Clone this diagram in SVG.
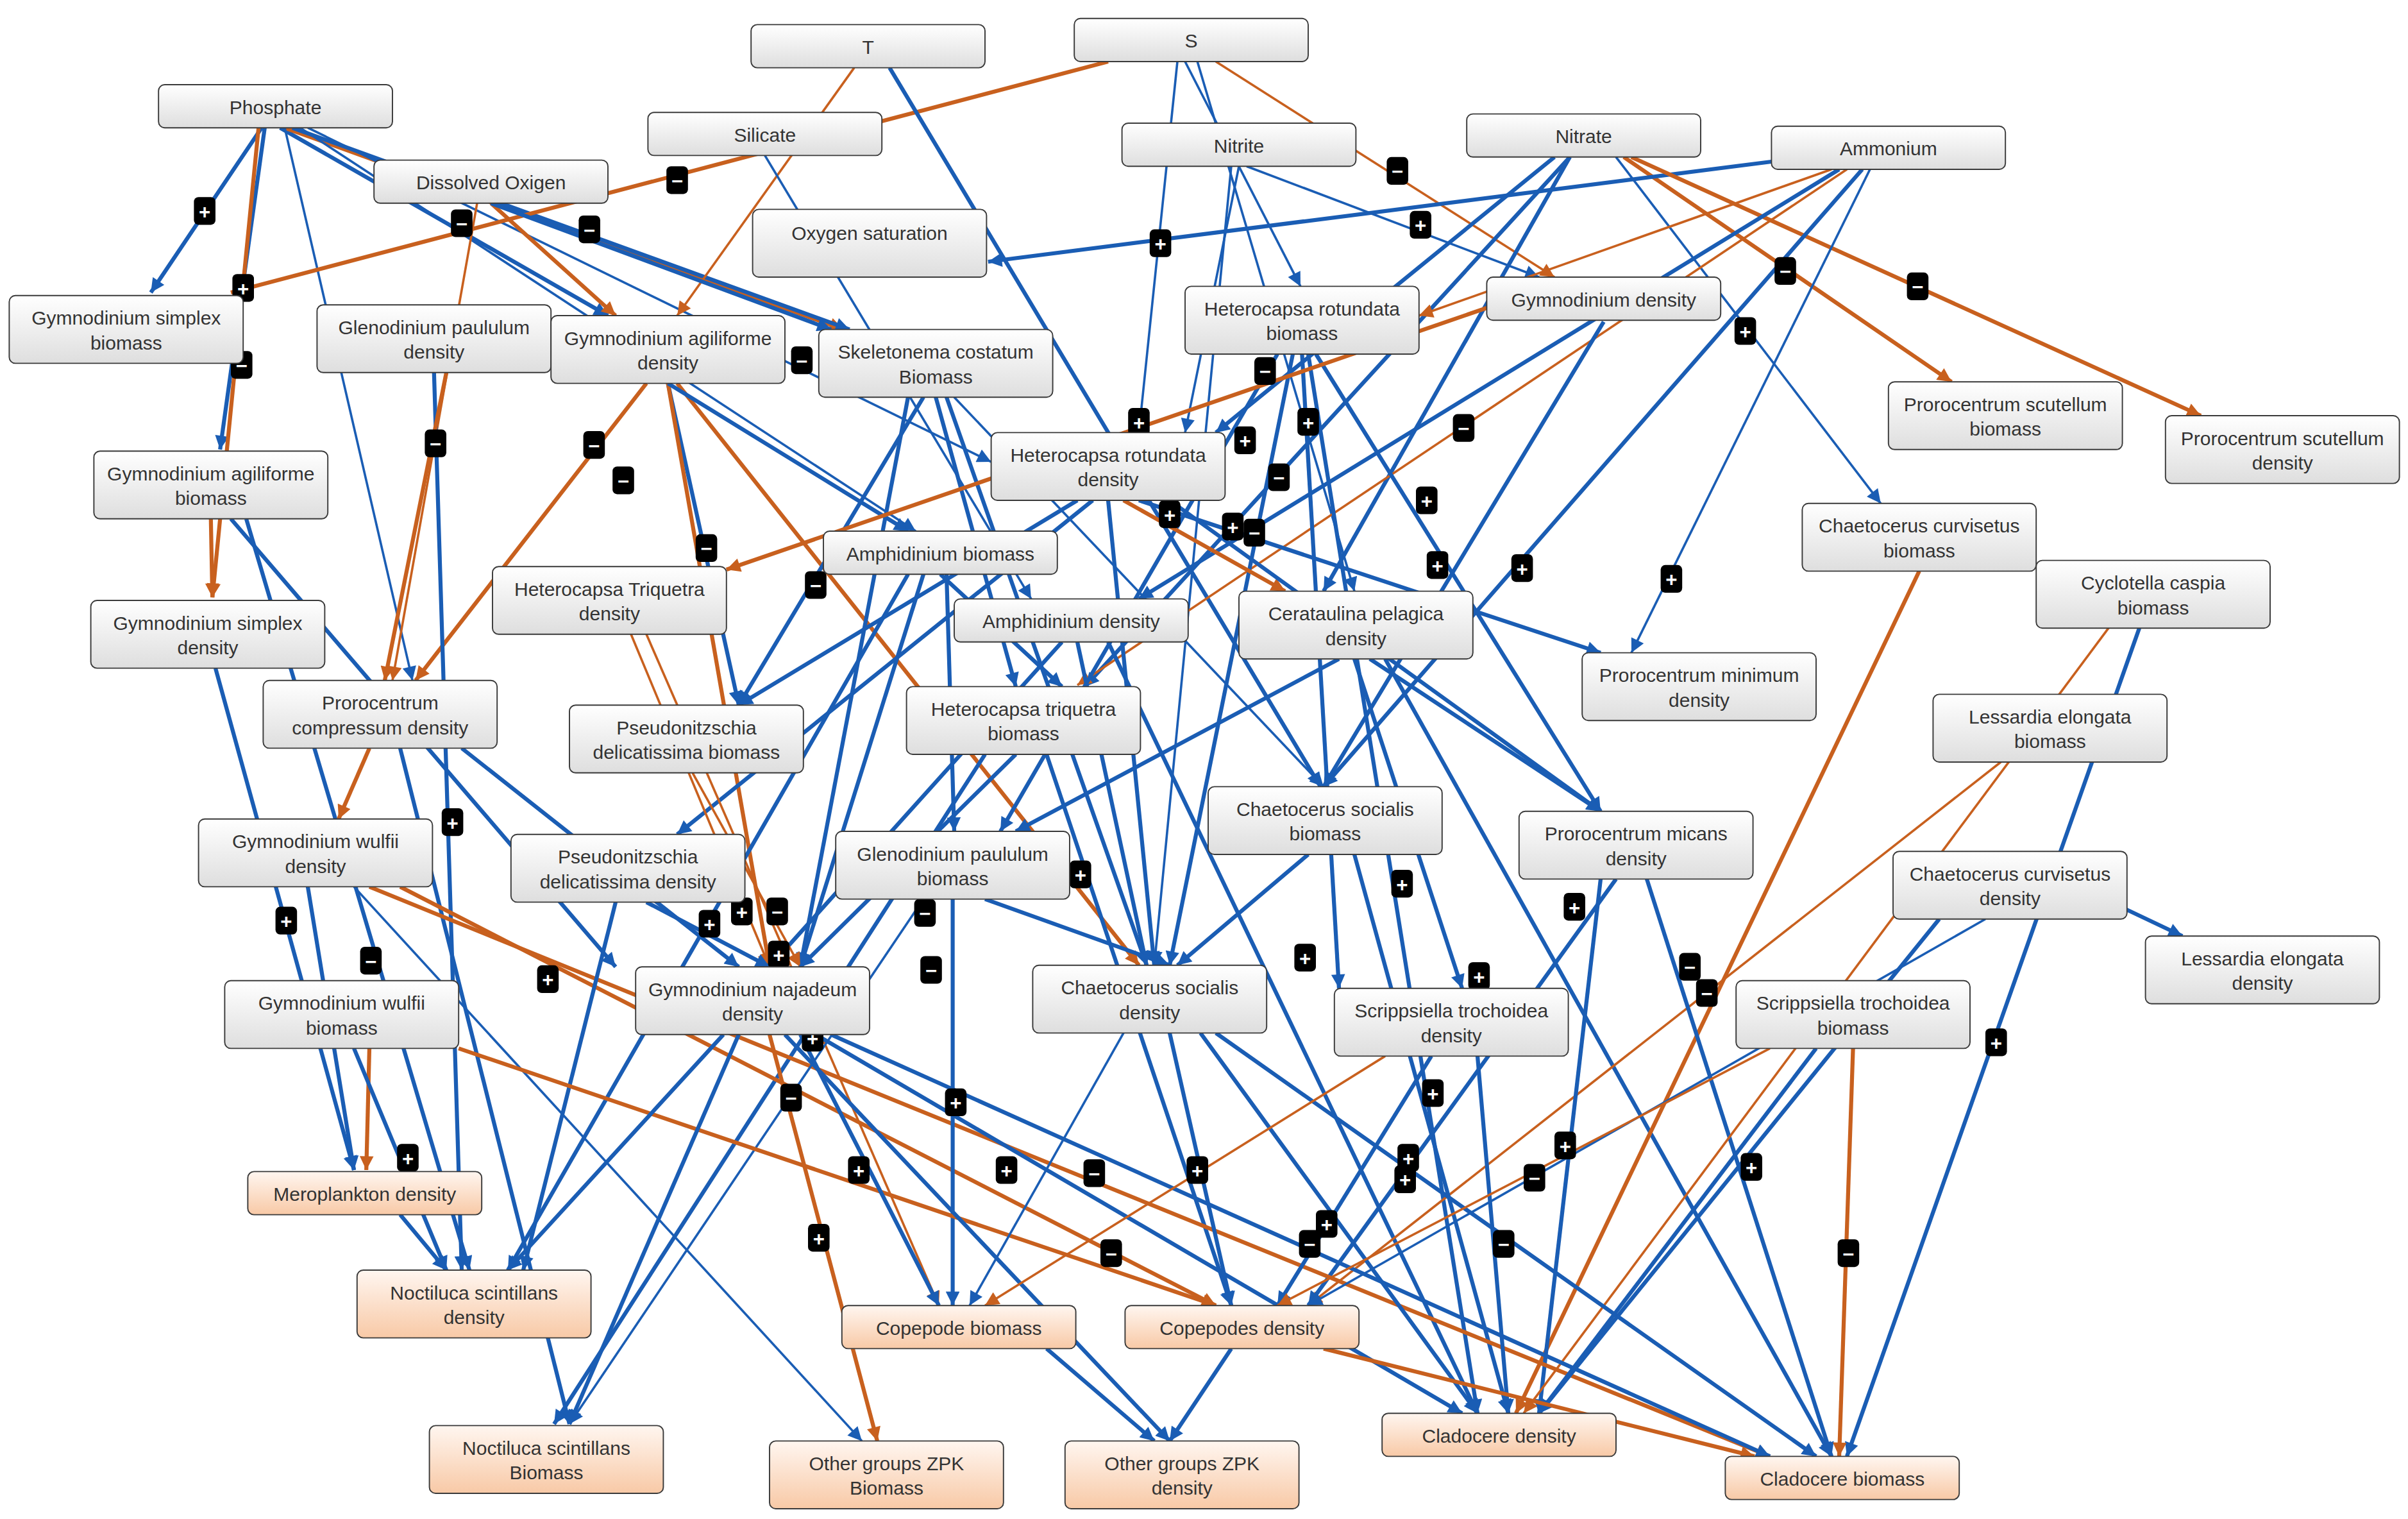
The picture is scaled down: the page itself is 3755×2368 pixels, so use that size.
<svg xmlns="http://www.w3.org/2000/svg" width="3755" height="2368" viewBox="0 0 3755 2368">
<style>
.n rect{fill:url(#g);stroke:#3a3a3a;stroke-width:0.8}
.z rect{fill:url(#gz);stroke:#3a3a3a;stroke-width:0.8}
text{font-family:"Liberation Sans",Arial,sans-serif;font-size:12.5px;fill:#333;text-anchor:middle}
.b{stroke:#1a5db4;fill:none;marker-end:url(#ab)}
.o{stroke:#c8601e;fill:none;marker-end:url(#ao)}
.t{stroke-width:2.6}.h{stroke-width:1.5}
.s rect{fill:#000;rx:3px}
.s text{fill:#fff;font-size:13px;font-weight:bold}
</style>
<defs>
<linearGradient id="g" x1="0" y1="0" x2="0" y2="1"><stop offset="0" stop-color="#ffffff"/><stop offset="1" stop-color="#dedede"/></linearGradient>
<linearGradient id="gz" x1="0" y1="0" x2="0" y2="1"><stop offset="0" stop-color="#fff6f0"/><stop offset="1" stop-color="#f8c9a6"/></linearGradient>
<marker id="ab" markerUnits="userSpaceOnUse" viewBox="0 0 10 10" refX="10" refY="5" markerWidth="11" markerHeight="9" orient="auto"><path d="M0,0L10,5L0,10z" fill="#1a5db4"/></marker>
<marker id="ao" markerUnits="userSpaceOnUse" viewBox="0 0 10 10" refX="10" refY="5" markerWidth="11" markerHeight="9" orient="auto"><path d="M0,0L10,5L0,10z" fill="#c8601e"/></marker>
</defs>
<rect width="3755" height="2368" fill="#fff"/>
<g transform="scale(2.4)">
<g id="connectors">
<line class="b t" x1="170" y1="83" x2="98" y2="190"/>
<line class="b t" x1="172" y1="83" x2="143" y2="292"/>
<line class="o t" x1="168" y1="83" x2="138" y2="388"/>
<line class="b t" x1="182" y1="83" x2="395" y2="205"/>
<line class="o t" x1="185" y1="83" x2="548" y2="214"/>
<line class="b t" x1="190" y1="83" x2="552" y2="214"/>
<line class="b h" x1="195" y1="83" x2="595" y2="345"/>
<line class="b h" x1="200" y1="83" x2="644" y2="300"/>
<line class="b h" x1="185" y1="83" x2="268" y2="442"/>
<line class="o t" x1="720" y1="40" x2="150" y2="190"/>
<line class="o h" x1="555" y1="44" x2="440" y2="205"/>
<line class="b t" x1="578" y1="44" x2="858" y2="511"/>
<line class="b h" x1="765" y1="40" x2="740" y2="281"/>
<line class="b h" x1="770" y1="40" x2="845" y2="186"/>
<line class="o h" x1="790" y1="40" x2="1010" y2="180"/>
<line class="b h" x1="778" y1="40" x2="880" y2="384"/>
<line class="b h" x1="805" y1="108" x2="770" y2="281"/>
<line class="b h" x1="800" y1="108" x2="750" y2="627"/>
<line class="b h" x1="810" y1="108" x2="1000" y2="180"/>
<line class="b t" x1="1010" y1="102" x2="790" y2="281"/>
<line class="b h" x1="1050" y1="102" x2="1222" y2="327"/>
<line class="o t" x1="1055" y1="102" x2="1268" y2="248"/>
<line class="b t" x1="1020" y1="102" x2="860" y2="384"/>
<line class="b t" x1="1020" y1="102" x2="705" y2="446"/>
<line class="b t" x1="1151" y1="105" x2="642" y2="170"/>
<line class="o t" x1="1060" y1="102" x2="1430" y2="270"/>
<line class="o h" x1="1190" y1="110" x2="922" y2="205"/>
<line class="o h" x1="1200" y1="110" x2="700" y2="445"/>
<line class="b t" x1="1210" y1="110" x2="860" y2="511"/>
<line class="b h" x1="1215" y1="110" x2="1060" y2="424"/>
<line class="b t" x1="1195" y1="110" x2="740" y2="389"/>
<line class="o t" x1="319" y1="132" x2="400" y2="205"/>
<line class="b t" x1="319" y1="132" x2="540" y2="214"/>
<line class="o h" x1="310" y1="132" x2="255" y2="442"/>
<line class="b h" x1="497" y1="101" x2="670" y2="389"/>
<line class="b t" x1="434" y1="249" x2="480" y2="458"/>
<line class="o t" x1="434" y1="249" x2="500" y2="628"/>
<line class="o t" x1="420" y1="249" x2="270" y2="442"/>
<line class="o t" x1="440" y1="249" x2="740" y2="627"/>
<line class="b t" x1="434" y1="249" x2="590" y2="345"/>
<line class="b t" x1="600" y1="258" x2="480" y2="458"/>
<line class="b t" x1="608" y1="258" x2="660" y2="446"/>
<line class="b t" x1="615" y1="258" x2="745" y2="627"/>
<line class="b h" x1="620" y1="258" x2="860" y2="511"/>
<line class="b t" x1="590" y1="258" x2="520" y2="628"/>
<line class="b t" x1="282" y1="242" x2="300" y2="825"/>
<line class="o t" x1="290" y1="242" x2="250" y2="442"/>
<line class="b t" x1="846" y1="230" x2="870" y2="642"/>
<line class="b t" x1="840" y1="230" x2="760" y2="627"/>
<line class="b t" x1="855" y1="230" x2="1040" y2="527"/>
<line class="b t" x1="850" y1="230" x2="960" y2="918"/>
<line class="b t" x1="830" y1="230" x2="650" y2="540"/>
<line class="o t" x1="966" y1="200" x2="472" y2="370"/>
<line class="b t" x1="1042" y1="209" x2="860" y2="511"/>
<line class="o t" x1="730" y1="325" x2="835" y2="384"/>
<line class="b t" x1="700" y1="325" x2="480" y2="458"/>
<line class="b t" x1="740" y1="325" x2="1040" y2="424"/>
<line class="b t" x1="720" y1="325" x2="750" y2="627"/>
<line class="b t" x1="710" y1="325" x2="440" y2="542"/>
<line class="b t" x1="760" y1="325" x2="1040" y2="527"/>
<line class="b t" x1="611" y1="373" x2="690" y2="446"/>
<line class="b t" x1="600" y1="373" x2="520" y2="628"/>
<line class="b t" x1="615" y1="373" x2="620" y2="540"/>
<line class="b t" x1="590" y1="373" x2="330" y2="825"/>
<line class="o h" x1="410" y1="412" x2="500" y2="628"/>
<line class="o h" x1="420" y1="412" x2="610" y2="848"/>
<line class="o t" x1="137" y1="337" x2="138" y2="388"/>
<line class="b t" x1="150" y1="337" x2="400" y2="628"/>
<line class="b t" x1="160" y1="337" x2="305" y2="825"/>
<line class="b t" x1="140" y1="434" x2="230" y2="760"/>
<line class="b t" x1="700" y1="417" x2="745" y2="627"/>
<line class="b t" x1="690" y1="417" x2="500" y2="628"/>
<line class="b t" x1="720" y1="417" x2="960" y2="918"/>
<line class="b t" x1="870" y1="428" x2="660" y2="540"/>
<line class="b t" x1="880" y1="428" x2="950" y2="642"/>
<line class="b t" x1="890" y1="428" x2="1040" y2="527"/>
<line class="b t" x1="900" y1="428" x2="1190" y2="946"/>
<line class="o t" x1="1247" y1="371" x2="985" y2="918"/>
<line class="o t" x1="240" y1="486" x2="220" y2="532"/>
<line class="b t" x1="300" y1="486" x2="480" y2="628"/>
<line class="b t" x1="260" y1="486" x2="370" y2="925"/>
<line class="o h" x1="450" y1="502" x2="520" y2="628"/>
<line class="b t" x1="640" y1="490" x2="360" y2="925"/>
<line class="b t" x1="660" y1="490" x2="520" y2="628"/>
<line class="b t" x1="680" y1="490" x2="800" y2="848"/>
<line class="o h" x1="1300" y1="495" x2="850" y2="848"/>
<line class="b t" x1="850" y1="555" x2="765" y2="627"/>
<line class="b t" x1="880" y1="555" x2="980" y2="918"/>
<line class="b t" x1="1050" y1="571" x2="850" y2="848"/>
<line class="b t" x1="1070" y1="571" x2="1190" y2="946"/>
<line class="b t" x1="1040" y1="571" x2="1000" y2="918"/>
<line class="b t" x1="200" y1="576" x2="230" y2="760"/>
<line class="o t" x1="260" y1="576" x2="790" y2="848"/>
<line class="o t" x1="240" y1="576" x2="1150" y2="946"/>
<line class="b h" x1="230" y1="576" x2="560" y2="936"/>
<line class="b t" x1="400" y1="586" x2="340" y2="825"/>
<line class="b t" x1="420" y1="586" x2="500" y2="628"/>
<line class="b t" x1="619" y1="584" x2="619" y2="848"/>
<line class="b t" x1="640" y1="584" x2="760" y2="627"/>
<line class="b h" x1="600" y1="584" x2="370" y2="925"/>
<line class="b t" x1="1380" y1="590" x2="1418" y2="608"/>
<line class="b t" x1="1260" y1="597" x2="1000" y2="918"/>
<line class="b h" x1="1290" y1="597" x2="850" y2="848"/>
<line class="b t" x1="1390" y1="408" x2="1200" y2="946"/>
<line class="o h" x1="1370" y1="408" x2="990" y2="918"/>
<line class="o t" x1="240" y1="681" x2="238" y2="760"/>
<line class="b t" x1="230" y1="681" x2="290" y2="825"/>
<line class="o t" x1="298" y1="681" x2="790" y2="848"/>
<line class="b t" x1="480" y1="672" x2="370" y2="925"/>
<line class="o t" x1="500" y1="672" x2="570" y2="936"/>
<line class="b t" x1="510" y1="672" x2="760" y2="936"/>
<line class="b t" x1="520" y1="672" x2="610" y2="848"/>
<line class="b t" x1="540" y1="672" x2="1150" y2="946"/>
<line class="b t" x1="530" y1="672" x2="950" y2="918"/>
<line class="b t" x1="470" y1="672" x2="330" y2="825"/>
<line class="b t" x1="760" y1="671" x2="800" y2="848"/>
<line class="b t" x1="780" y1="671" x2="960" y2="918"/>
<line class="b t" x1="790" y1="671" x2="1180" y2="946"/>
<line class="b h" x1="730" y1="671" x2="630" y2="848"/>
<line class="b t" x1="930" y1="686" x2="830" y2="848"/>
<line class="b t" x1="960" y1="686" x2="980" y2="918"/>
<line class="o h" x1="900" y1="686" x2="640" y2="848"/>
<line class="o t" x1="1204" y1="681" x2="1195" y2="946"/>
<line class="b t" x1="1180" y1="681" x2="1000" y2="918"/>
<line class="o h" x1="1150" y1="681" x2="830" y2="848"/>
<line class="b t" x1="800" y1="876" x2="760" y2="936"/>
<line class="o t" x1="860" y1="876" x2="1140" y2="946"/>
<line class="b t" x1="680" y1="876" x2="750" y2="936"/>
<line class="b t" x1="260" y1="789" x2="290" y2="825"/>
</g>
<g id="signs">
<g class="s"><rect x="126" y="128" width="14" height="18"/><text x="133" y="142">+</text></g>
<g class="s"><rect x="151" y="178" width="14" height="18"/><text x="158" y="192">+</text></g>
<g class="s"><rect x="150" y="228" width="14" height="18"/><text x="157" y="242">−</text></g>
<g class="s"><rect x="293" y="136" width="14" height="18"/><text x="300" y="150">−</text></g>
<g class="s"><rect x="376" y="140" width="14" height="18"/><text x="383" y="154">−</text></g>
<g class="s"><rect x="433" y="108" width="14" height="18"/><text x="440" y="122">−</text></g>
<g class="s"><rect x="514" y="225" width="14" height="18"/><text x="521" y="239">−</text></g>
<g class="s"><rect x="276" y="279" width="14" height="18"/><text x="283" y="293">−</text></g>
<g class="s"><rect x="379" y="280" width="14" height="18"/><text x="386" y="294">−</text></g>
<g class="s"><rect x="398" y="303" width="14" height="18"/><text x="405" y="317">−</text></g>
<g class="s"><rect x="452" y="347" width="14" height="18"/><text x="459" y="361">−</text></g>
<g class="s"><rect x="523" y="371" width="14" height="18"/><text x="530" y="385">−</text></g>
<g class="s"><rect x="747" y="149" width="14" height="18"/><text x="754" y="163">+</text></g>
<g class="s"><rect x="916" y="137" width="14" height="18"/><text x="923" y="151">+</text></g>
<g class="s"><rect x="901" y="102" width="14" height="18"/><text x="908" y="116">−</text></g>
<g class="s"><rect x="815" y="232" width="14" height="18"/><text x="822" y="246">−</text></g>
<g class="s"><rect x="843" y="265" width="14" height="18"/><text x="850" y="279">+</text></g>
<g class="s"><rect x="944" y="269" width="14" height="18"/><text x="951" y="283">−</text></g>
<g class="s"><rect x="920" y="316" width="14" height="18"/><text x="927" y="330">+</text></g>
<g class="s"><rect x="802" y="277" width="14" height="18"/><text x="809" y="291">+</text></g>
<g class="s"><rect x="824" y="301" width="14" height="18"/><text x="831" y="315">−</text></g>
<g class="s"><rect x="753" y="325" width="14" height="18"/><text x="760" y="339">+</text></g>
<g class="s"><rect x="794" y="333" width="14" height="18"/><text x="801" y="347">+</text></g>
<g class="s"><rect x="808" y="337" width="14" height="18"/><text x="815" y="351">−</text></g>
<g class="s"><rect x="927" y="358" width="14" height="18"/><text x="934" y="372">+</text></g>
<g class="s"><rect x="982" y="360" width="14" height="18"/><text x="989" y="374">+</text></g>
<g class="s"><rect x="1079" y="367" width="14" height="18"/><text x="1086" y="381">+</text></g>
<g class="s"><rect x="1153" y="167" width="14" height="18"/><text x="1160" y="181">−</text></g>
<g class="s"><rect x="1127" y="206" width="14" height="18"/><text x="1134" y="220">+</text></g>
<g class="s"><rect x="1239" y="177" width="14" height="18"/><text x="1246" y="191">−</text></g>
<g class="s"><rect x="733" y="265" width="14" height="18"/><text x="740" y="279">+</text></g>
<g class="s"><rect x="287" y="525" width="14" height="18"/><text x="294" y="539">+</text></g>
<g class="s"><rect x="179" y="589" width="14" height="18"/><text x="186" y="603">+</text></g>
<g class="s"><rect x="234" y="615" width="14" height="18"/><text x="241" y="629">−</text></g>
<g class="s"><rect x="349" y="627" width="14" height="18"/><text x="356" y="641">+</text></g>
<g class="s"><rect x="454" y="591" width="14" height="18"/><text x="461" y="605">+</text></g>
<g class="s"><rect x="475" y="583" width="14" height="18"/><text x="482" y="597">+</text></g>
<g class="s"><rect x="498" y="583" width="14" height="18"/><text x="505" y="597">−</text></g>
<g class="s"><rect x="499" y="611" width="14" height="18"/><text x="506" y="625">+</text></g>
<g class="s"><rect x="594" y="584" width="14" height="18"/><text x="601" y="598">−</text></g>
<g class="s"><rect x="598" y="621" width="14" height="18"/><text x="605" y="635">−</text></g>
<g class="s"><rect x="695" y="559" width="14" height="18"/><text x="702" y="573">+</text></g>
<g class="s"><rect x="507" y="704" width="14" height="18"/><text x="514" y="718">−</text></g>
<g class="s"><rect x="521" y="665" width="14" height="18"/><text x="528" y="679">+</text></g>
<g class="s"><rect x="614" y="707" width="14" height="18"/><text x="621" y="721">+</text></g>
<g class="s"><rect x="551" y="751" width="14" height="18"/><text x="558" y="765">+</text></g>
<g class="s"><rect x="647" y="751" width="14" height="18"/><text x="654" y="765">+</text></g>
<g class="s"><rect x="704" y="753" width="14" height="18"/><text x="711" y="767">−</text></g>
<g class="s"><rect x="771" y="751" width="14" height="18"/><text x="778" y="765">+</text></g>
<g class="s"><rect x="715" y="805" width="14" height="18"/><text x="722" y="819">−</text></g>
<g class="s"><rect x="525" y="795" width="14" height="18"/><text x="532" y="809">+</text></g>
<g class="s"><rect x="841" y="613" width="14" height="18"/><text x="848" y="627">+</text></g>
<g class="s"><rect x="904" y="565" width="14" height="18"/><text x="911" y="579">+</text></g>
<g class="s"><rect x="954" y="625" width="14" height="18"/><text x="961" y="639">+</text></g>
<g class="s"><rect x="924" y="701" width="14" height="18"/><text x="931" y="715">+</text></g>
<g class="s"><rect x="1016" y="580" width="14" height="18"/><text x="1023" y="594">+</text></g>
<g class="s"><rect x="1010" y="735" width="14" height="18"/><text x="1017" y="749">+</text></g>
<g class="s"><rect x="990" y="756" width="14" height="18"/><text x="997" y="770">−</text></g>
<g class="s"><rect x="908" y="743" width="14" height="18"/><text x="915" y="757">+</text></g>
<g class="s"><rect x="906" y="757" width="14" height="18"/><text x="913" y="771">+</text></g>
<g class="s"><rect x="855" y="786" width="14" height="18"/><text x="862" y="800">+</text></g>
<g class="s"><rect x="844" y="799" width="14" height="18"/><text x="851" y="813">−</text></g>
<g class="s"><rect x="970" y="799" width="14" height="18"/><text x="977" y="813">−</text></g>
<g class="s"><rect x="1091" y="619" width="14" height="18"/><text x="1098" y="633">−</text></g>
<g class="s"><rect x="1102" y="636" width="14" height="18"/><text x="1109" y="650">−</text></g>
<g class="s"><rect x="1290" y="668" width="14" height="18"/><text x="1297" y="682">+</text></g>
<g class="s"><rect x="1131" y="749" width="14" height="18"/><text x="1138" y="763">+</text></g>
<g class="s"><rect x="1194" y="805" width="14" height="18"/><text x="1201" y="819">−</text></g>
<g class="s"><rect x="258" y="743" width="14" height="18"/><text x="265" y="757">+</text></g>
</g>
<g id="T" class="n"><rect x="488" y="16" width="152" height="28" rx="4"/><text x="564" y="35">T</text></g>
<g id="S" class="n"><rect x="698" y="12" width="152" height="28" rx="4"/><text x="774" y="31">S</text></g>
<g id="Phosphate" class="n"><rect x="103" y="55" width="152" height="28" rx="4"/><text x="179" y="74">Phosphate</text></g>
<g id="Silicate" class="n"><rect x="421" y="73" width="152" height="28" rx="4"/><text x="497" y="92">Silicate</text></g>
<g id="Nitrite" class="n"><rect x="729" y="80" width="152" height="28" rx="4"/><text x="805" y="99">Nitrite</text></g>
<g id="Nitrate" class="n"><rect x="953" y="74" width="152" height="28" rx="4"/><text x="1029" y="93">Nitrate</text></g>
<g id="Ammonium" class="n"><rect x="1151" y="82" width="152" height="28" rx="4"/><text x="1227" y="101">Ammonium</text></g>
<g id="DissolvedOxigen" class="n"><rect x="243" y="104" width="152" height="28" rx="4"/><text x="319" y="123">Dissolved Oxigen</text></g>
<g id="OxygenSaturation" class="n"><rect x="489" y="136" width="152" height="44" rx="4"/><text x="565" y="156">Oxygen saturation</text></g>
<g id="GsimplexB" class="n"><rect x="6" y="192" width="152" height="44" rx="4"/><text x="82" y="211">Gymnodinium simplex</text><text x="82" y="227">biomass</text></g>
<g id="GlenoD" class="n"><rect x="206" y="198" width="152" height="44" rx="4"/><text x="282" y="217">Glenodinium paululum</text><text x="282" y="233">density</text></g>
<g id="GagilD" class="n"><rect x="358" y="205" width="152" height="44" rx="4"/><text x="434" y="224">Gymnodinium agiliforme</text><text x="434" y="240">density</text></g>
<g id="SkeletB" class="n"><rect x="532" y="214" width="152" height="44" rx="4"/><text x="608" y="233">Skeletonema costatum</text><text x="608" y="249">Biomass</text></g>
<g id="HrotB" class="n"><rect x="770" y="186" width="152" height="44" rx="4"/><text x="846" y="205">Heterocapsa rotundata</text><text x="846" y="221">biomass</text></g>
<g id="GymnoD" class="n"><rect x="966" y="180" width="152" height="28" rx="4"/><text x="1042" y="199">Gymnodinium density</text></g>
<g id="PscutB" class="n"><rect x="1227" y="248" width="152" height="44" rx="4"/><text x="1303" y="267">Prorocentrum scutellum</text><text x="1303" y="283">biomass</text></g>
<g id="PscutD" class="n"><rect x="1407" y="270" width="152" height="44" rx="4"/><text x="1483" y="289">Prorocentrum scutellum</text><text x="1483" y="305">density</text></g>
<g id="GagilB" class="n"><rect x="61" y="293" width="152" height="44" rx="4"/><text x="137" y="312">Gymnodinium agiliforme</text><text x="137" y="328">biomass</text></g>
<g id="HrotD" class="n"><rect x="644" y="281" width="152" height="44" rx="4"/><text x="720" y="300">Heterocapsa rotundata</text><text x="720" y="316">density</text></g>
<g id="CcurvB" class="n"><rect x="1171" y="327" width="152" height="44" rx="4"/><text x="1247" y="346">Chaetocerus curvisetus</text><text x="1247" y="362">biomass</text></g>
<g id="AmphB" class="n"><rect x="535" y="345" width="152" height="28" rx="4"/><text x="611" y="364">Amphidinium biomass</text></g>
<g id="CyclB" class="n"><rect x="1323" y="364" width="152" height="44" rx="4"/><text x="1399" y="383">Cyclotella caspia</text><text x="1399" y="399">biomass</text></g>
<g id="HtriD" class="n"><rect x="320" y="368" width="152" height="44" rx="4"/><text x="396" y="387">Heterocapsa Triquetra</text><text x="396" y="403">density</text></g>
<g id="GsimplexD" class="n"><rect x="59" y="390" width="152" height="44" rx="4"/><text x="135" y="409">Gymnodinium simplex</text><text x="135" y="425">density</text></g>
<g id="AmphD" class="n"><rect x="620" y="389" width="152" height="28" rx="4"/><text x="696" y="408">Amphidinium density</text></g>
<g id="CeratD" class="n"><rect x="805" y="384" width="152" height="44" rx="4"/><text x="881" y="403">Cerataulina pelagica</text><text x="881" y="419">density</text></g>
<g id="PminD" class="n"><rect x="1028" y="424" width="152" height="44" rx="4"/><text x="1104" y="443">Prorocentrum minimum</text><text x="1104" y="459">density</text></g>
<g id="PcompD" class="n"><rect x="171" y="442" width="152" height="44" rx="4"/><text x="247" y="461">Prorocentrum</text><text x="247" y="477">compressum density</text></g>
<g id="PseudoB" class="n"><rect x="370" y="458" width="152" height="44" rx="4"/><text x="446" y="477">Pseudonitzschia</text><text x="446" y="493">delicatissima biomass</text></g>
<g id="HtriB" class="n"><rect x="589" y="446" width="152" height="44" rx="4"/><text x="665" y="465">Heterocapsa triquetra</text><text x="665" y="481">biomass</text></g>
<g id="LessB" class="n"><rect x="1256" y="451" width="152" height="44" rx="4"/><text x="1332" y="470">Lessardia elongata</text><text x="1332" y="486">biomass</text></g>
<g id="CsocB" class="n"><rect x="785" y="511" width="152" height="44" rx="4"/><text x="861" y="530">Chaetocerus socialis</text><text x="861" y="546">biomass</text></g>
<g id="PmicD" class="n"><rect x="987" y="527" width="152" height="44" rx="4"/><text x="1063" y="546">Prorocentrum micans</text><text x="1063" y="562">density</text></g>
<g id="GwulD" class="n"><rect x="129" y="532" width="152" height="44" rx="4"/><text x="205" y="551">Gymnodinium wulfii</text><text x="205" y="567">density</text></g>
<g id="PseudoD" class="n"><rect x="332" y="542" width="152" height="44" rx="4"/><text x="408" y="561">Pseudonitzschia</text><text x="408" y="577">delicatissima density</text></g>
<g id="GlenoB" class="n"><rect x="543" y="540" width="152" height="44" rx="4"/><text x="619" y="559">Glenodinium paululum</text><text x="619" y="575">biomass</text></g>
<g id="CcurvD" class="n"><rect x="1230" y="553" width="152" height="44" rx="4"/><text x="1306" y="572">Chaetocerus curvisetus</text><text x="1306" y="588">density</text></g>
<g id="LessD" class="n"><rect x="1394" y="608" width="152" height="44" rx="4"/><text x="1470" y="627">Lessardia elongata</text><text x="1470" y="643">density</text></g>
<g id="GwulB" class="n"><rect x="146" y="637" width="152" height="44" rx="4"/><text x="222" y="656">Gymnodinium wulfii</text><text x="222" y="672">biomass</text></g>
<g id="GnajD" class="n"><rect x="413" y="628" width="152" height="44" rx="4"/><text x="489" y="647">Gymnodinium najadeum</text><text x="489" y="663">density</text></g>
<g id="CsocD" class="n"><rect x="671" y="627" width="152" height="44" rx="4"/><text x="747" y="646">Chaetocerus socialis</text><text x="747" y="662">density</text></g>
<g id="ScripD" class="n"><rect x="867" y="642" width="152" height="44" rx="4"/><text x="943" y="661">Scrippsiella trochoidea</text><text x="943" y="677">density</text></g>
<g id="ScripB" class="n"><rect x="1128" y="637" width="152" height="44" rx="4"/><text x="1204" y="656">Scrippsiella trochoidea</text><text x="1204" y="672">biomass</text></g>
<g id="MeroD" class="z"><rect x="161" y="761" width="152" height="28" rx="4"/><text x="237" y="780">Meroplankton density</text></g>
<g id="NoctD" class="z"><rect x="232" y="825" width="152" height="44" rx="4"/><text x="308" y="844">Noctiluca scintillans</text><text x="308" y="860">density</text></g>
<g id="CopB" class="z"><rect x="547" y="848" width="152" height="28" rx="4"/><text x="623" y="867">Copepode biomass</text></g>
<g id="CopD" class="z"><rect x="731" y="848" width="152" height="28" rx="4"/><text x="807" y="867">Copepodes density</text></g>
<g id="ClaD" class="z"><rect x="898" y="918" width="152" height="28" rx="4"/><text x="974" y="937">Cladocere density</text></g>
<g id="NoctB" class="z"><rect x="279" y="926" width="152" height="44" rx="4"/><text x="355" y="945">Noctiluca scintillans</text><text x="355" y="961">Biomass</text></g>
<g id="OtherB" class="z"><rect x="500" y="936" width="152" height="44" rx="4"/><text x="576" y="955">Other groups ZPK</text><text x="576" y="971">Biomass</text></g>
<g id="OtherD" class="z"><rect x="692" y="936" width="152" height="44" rx="4"/><text x="768" y="955">Other groups ZPK</text><text x="768" y="971">density</text></g>
<g id="ClaB" class="z"><rect x="1121" y="946" width="152" height="28" rx="4"/><text x="1197" y="965">Cladocere biomass</text></g>
</g>
</svg>
